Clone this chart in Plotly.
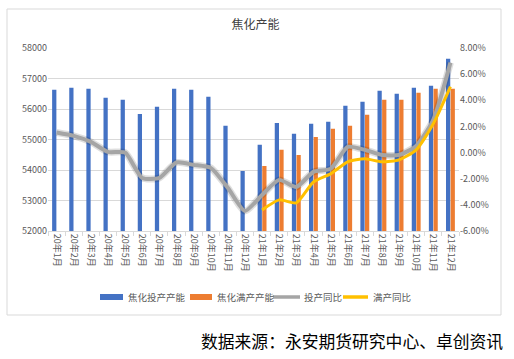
import plotly.graph_objects as go

categories = ["20年1月", "20年2月", "20年3月", "20年4月", "20年5月", "20年6月",
              "20年7月", "20年8月", "20年9月", "20年10月", "20年11月", "20年12月",
              "21年1月", "21年2月", "21年3月", "21年4月", "21年5月", "21年6月",
              "21年7月", "21年8月", "21年9月", "21年10月", "21年11月", "21年12月"]

touchan_capacity = [56630, 56695, 56660, 56365, 56300, 55840, 56070, 56660, 56630, 56400, 55450, 53970,
                    54825, 55545, 55185, 55515, 55580, 56105, 56235, 56600, 56500, 56695, 56765, 57650]
manchan_capacity = [None] * 12 + [54135, 54660, 54495, 55085, 55350, 55450,
                                  55810, 56305, 56305, 56535, 56665, 56665]
touchan_yoy = [1.54, 1.28, 0.82, 0.05, 0.0, -1.94, -1.94, -0.76, -0.94, -1.17, -2.7, -4.47,
               -3.24, -2.09, -2.63, -1.48, -1.25, 0.44, 0.21, -0.18, -0.18, 0.51, 2.51, 6.88]
manchan_yoy = [None] * 12 + [-4.39, -3.62, -3.85, -2.25, -1.63, -0.71,
                             -0.48, -0.71, -0.56, 0.21, 2.2, 5.04]

left_ticks = [52000, 53000, 54000, 55000, 56000, 57000, 58000]
left_tick_text = ["52000", "53000", "54000", "55000", "56000", "57000", "58000"]
right_ticks = [-6, -4, -2, 0, 2, 4, 6, 8]
right_tick_text = ["-6.00%", "-4.00%", "-2.00%", "0.00%", "2.00%", "4.00%", "6.00%", "8.00%"]

series_names = ["焦化投产产能", "焦化满产产能", "投产同比", "满产同比"]
series_colors = ["#4472C4", "#ED7D31", "#A5A5A5", "#FFC000"]

FONT = "Noto Sans CJK SC"
TICK_COLOR = "#595959"

fig = go.Figure()
fig.add_trace(go.Bar(x=categories, y=touchan_capacity, name=series_names[0],
                     marker=dict(color=series_colors[0], line=dict(width=0))))
fig.add_trace(go.Bar(x=categories, y=manchan_capacity, name=series_names[1],
                     marker=dict(color=series_colors[1], line=dict(width=0))))
fig.add_trace(go.Scatter(x=categories, y=touchan_yoy, name="shadow", yaxis="y2",
                         mode="lines", line=dict(color="rgba(0,0,0,0.13)", width=7,
                                                 shape="spline", smoothing=0.6),
                         showlegend=False, hoverinfo="skip"))
fig.add_trace(go.Scatter(x=categories, y=touchan_yoy, name=series_names[2], yaxis="y2",
                         mode="lines", line=dict(color=series_colors[2], width=4,
                                                 shape="spline", smoothing=0.6)))
fig.add_trace(go.Scatter(x=categories, y=manchan_yoy, name=series_names[3], yaxis="y2",
                         mode="lines", line=dict(color=series_colors[3], width=3,
                                                 shape="spline", smoothing=0.6)))

W, H = 514, 359
L, R, T, B = 48, 459, 48, 231


def px_x(px):
    return (px - L) / (R - L)


def px_y(py):
    return (B - py) / (B - T)


# manual legend (compact, like the reference)
legend_y = 297
legend_items = [  # (kind, symbol x0, symbol x1, text x)
    ("bar", 100, 123, 126),
    ("bar", 190, 212, 215),
    ("line", 273, 300, 302),
    ("line", 343, 368, 371),
]
shapes = [dict(type="rect", xref="paper", yref="paper",
               x0=px_x(7), x1=px_x(501), y0=px_y(315), y1=px_y(9),
               line=dict(color="#d9d9d9", width=1), fillcolor="rgba(0,0,0,0)", layer="below")]
annotations = []
for (kind, x0, x1, tx), name, color in zip(legend_items, series_names, series_colors):
    if kind == "bar":
        shapes.append(dict(type="rect", xref="paper", yref="paper",
                           x0=px_x(x0), x1=px_x(x1), y0=px_y(legend_y + 3), y1=px_y(legend_y - 3),
                           line=dict(width=0), fillcolor=color))
    else:
        shapes.append(dict(type="line", xref="paper", yref="paper",
                           x0=px_x(x0), x1=px_x(x1), y0=px_y(legend_y), y1=px_y(legend_y),
                           line=dict(color=color, width=3.5)))
    annotations.append(dict(text=name, xref="paper", yref="paper", x=px_x(tx), y=px_y(legend_y),
                            xanchor="left", yanchor="middle", showarrow=False,
                            font=dict(family=FONT, size=9.5, color=TICK_COLOR)))

annotations.append(dict(text="数据来源：永安期货研究中心、卓创资讯", xref="paper", yref="paper",
                        x=px_x(505), y=px_y(341), xanchor="right", yanchor="middle", showarrow=False,
                        font=dict(family=FONT, size=16.8, color="#000000")))

fig.update_layout(
    width=W, height=H,
    margin=dict(l=L, r=W - R, t=T, b=H - B, autoexpand=False),
    paper_bgcolor="white", plot_bgcolor="white",
    font=dict(family=FONT, size=9, color=TICK_COLOR),
    showlegend=False,
    barmode="group", bargap=0.46, bargroupgap=0.08,
    title=dict(text="焦化产能", x=0.497, xanchor="center", y=1 - 25 / H, yanchor="middle",
               font=dict(family=FONT, size=12, color="#404040")),
    xaxis=dict(type="category", tickangle=90, tickfont=dict(size=9, color=TICK_COLOR),
               showgrid=False, showline=True, linecolor="#d9d9d9", linewidth=1,
               ticks="outside", ticklen=4, tickcolor="#d9d9d9", tickson="boundaries",
               automargin=False),
    yaxis=dict(range=[52000, 58000], tickvals=left_ticks, ticktext=left_tick_text,
               showgrid=True, gridcolor="#d9d9d9", gridwidth=1, zeroline=False,
               tickfont=dict(size=9, color=TICK_COLOR), ticks="", automargin=False),
    yaxis2=dict(range=[-6, 8], overlaying="y", side="right", tickvals=right_ticks,
                ticktext=right_tick_text, showgrid=False, zeroline=False,
                tickfont=dict(size=9, color=TICK_COLOR), automargin=False),
    shapes=shapes,
    annotations=annotations,
)

fig.write_html("out.html", config={"displayModeBar": False},
               post_script="document.body.style.margin='0';")
